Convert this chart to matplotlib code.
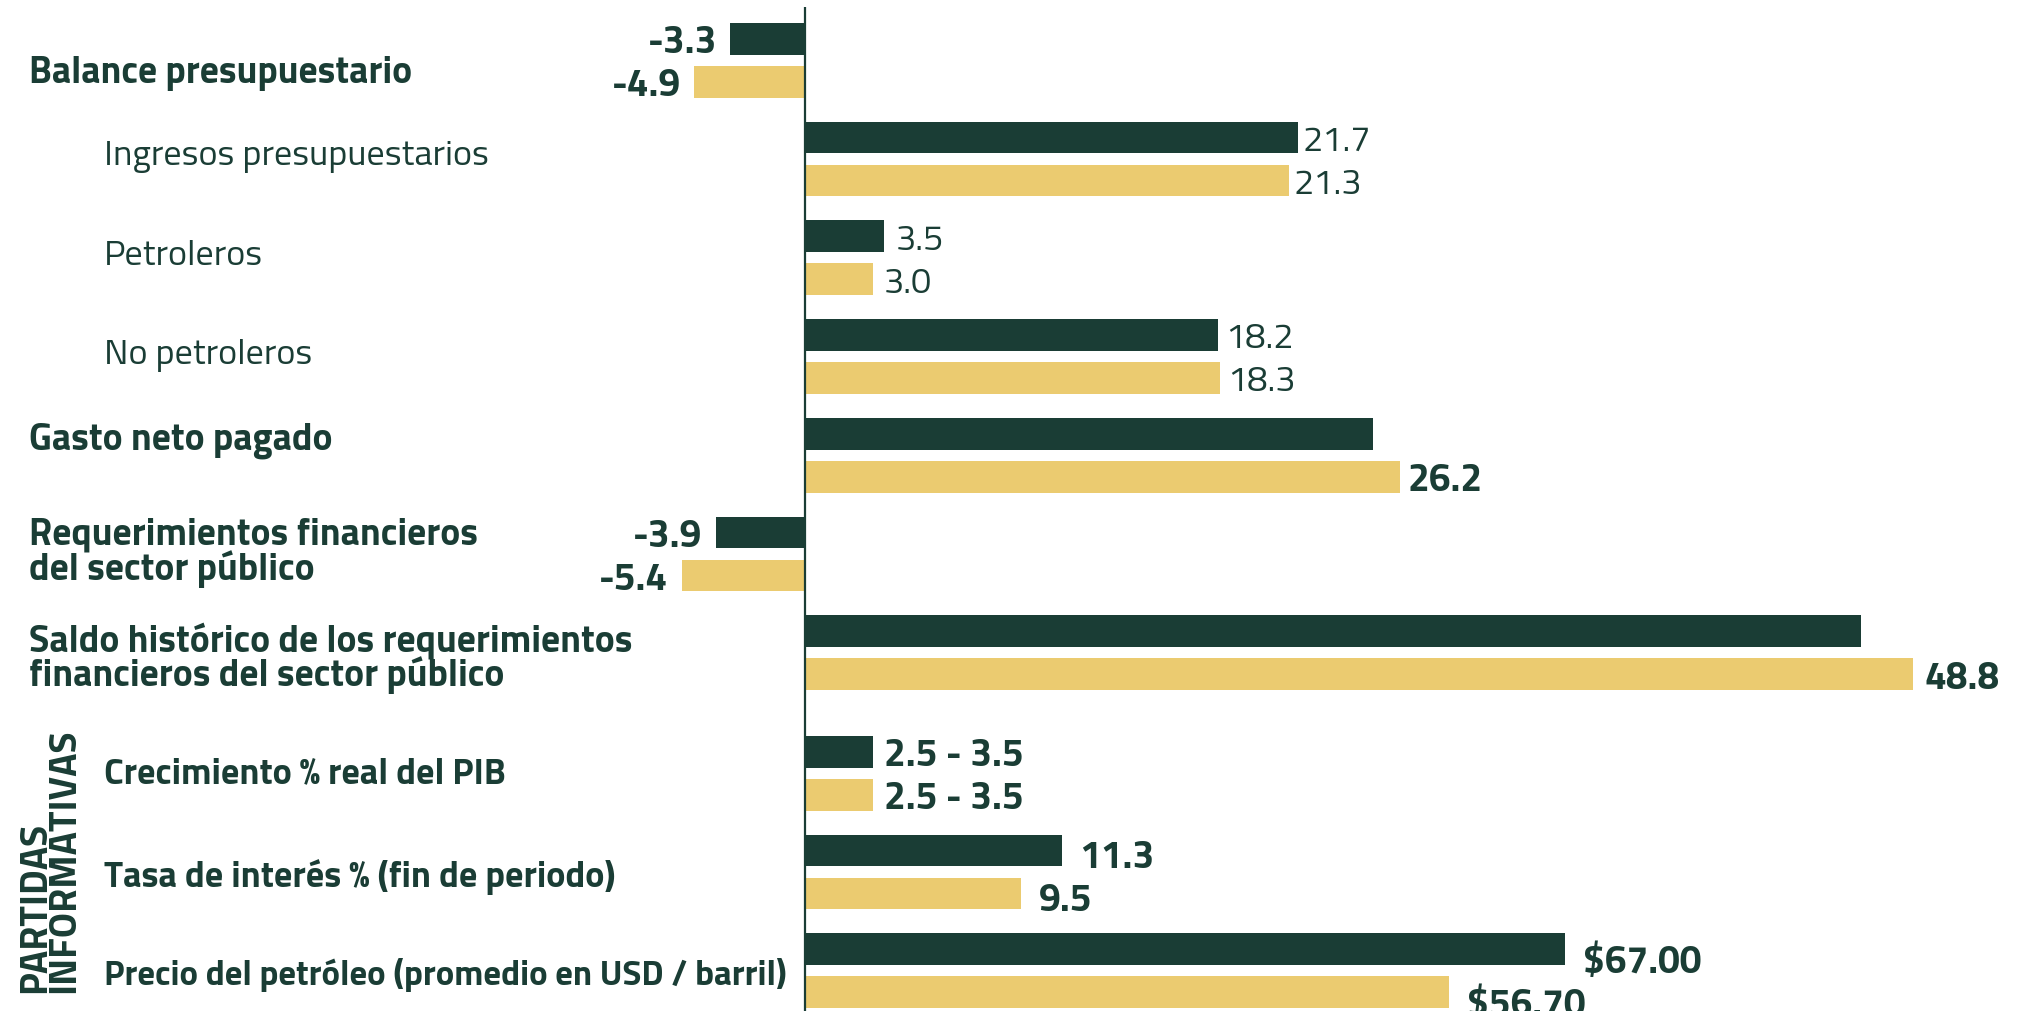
import matplotlib
matplotlib.use("Agg")
import matplotlib.pyplot as plt

# data
categories = ["Balance presupuestario",
              "Ingresos presupuestarios",
              "Petroleros",
              "No petroleros",
              "Gasto neto pagado",
              "Requerimientos financieros\ndel sector público",
              "Saldo histórico de los requerimientos\nfinancieros del sector público",
              "Crecimiento % real del PIB",
              "Tasa de interés % (fin de periodo)",
              "Precio del petróleo (promedio en USD / barril)"]
dark_values = [-3.3, 21.7, 3.5, 18.2, 25.0, -3.9, 46.5, 3.0, 11.3, 67.0]
yellow_values = [-4.9, 21.3, 3.0, 18.3, 26.2, -5.4, 48.8, 3.0, 9.5, 56.7]
dark_labels = ["-3.3", "21.7", "3.5", "18.2", "", "-3.9", "", "2.5 - 3.5", "11.3", r"\$67.00"]
yellow_labels = ["-4.9", "21.3", "3.0", "18.3", "26.2", "-5.4", "48.8", "2.5 - 3.5", "9.5", r"\$56.70"]
# oil price drawn at half scale in the original
bar_scale = [1, 1, 1, 1, 1, 1, 1, 1, 1, 0.5]
bold_rows = [True, False, False, False, True, True, True, True, True, True]
indent_rows = [False, True, True, True, False, False, False, True, True, True]
section_label = "PARTIDAS\nINFORMATIVAS"

DARK = "#1a3d35"
YELLOW = "#ebcb70"
FONT = ["Titillium Web", "Saira Semi Condensed", "Fira Sans Condensed", "DejaVu Sans"]

W, H = 2034, 1012
x0 = 805        # pixel of zero line
ppu = 22.7      # pixels per unit
bar_h = 31.7
pair_gap = 43
group_pitch = 98.7
section_gap = 22
cat_nudge = [8, -7.5, -6, -6, -20, -2, 5, -4, 0, 0]
cat_size = [27, 26, 26, 26, 27, 27, 27, 26, 26, 25]
lab_nudge = [0, 0, 0, 0, 0, 0, 0, 0, 3, 9]
lab_pad = [13, 5, 11, 7, 8, 14, 12, 11, 18, 18]


def main():
    fig = plt.figure(figsize=(W / 100, H / 100), dpi=100)
    ax = fig.add_axes([0, 0, 1, 1])
    ax.set_xlim(-x0 / ppu, (W - x0) / ppu)
    ax.set_ylim(H, 0)
    ax.axis("off")

    def px(x):
        return (x - x0) / ppu

    for i, cat in enumerate(categories):
        top = 24 + group_pitch * i + (section_gap if i >= 7 else 0)
        yd = top + bar_h / 2
        yy = yd + pair_gap
        ax.barh(yd, dark_values[i] * bar_scale[i], height=bar_h, color=DARK)
        ax.barh(yy, yellow_values[i] * bar_scale[i], height=bar_h, color=YELLOW)

        weight = "bold" if bold_rows[i] else "normal"
        lsize = 28 if bold_rows[i] else 26
        pad = lab_pad[i] / ppu
        for v, lab, y in [(dark_values[i], dark_labels[i], yd),
                          (yellow_values[i], yellow_labels[i], yy)]:
            if not lab:
                continue
            v = v * bar_scale[i]
            if v < 0:
                ax.text(v - pad, y + lab_nudge[i], lab, ha="right", va="center_baseline",
                        fontsize=lsize, fontweight=weight, color=DARK, family=FONT)
            else:
                ax.text(v + pad, y + lab_nudge[i], lab, ha="left", va="center_baseline",
                        fontsize=lsize, fontweight=weight, color=DARK, family=FONT)

        cx = 104 if indent_rows[i] else 29
        cy = top + (pair_gap + bar_h) / 2 + cat_nudge[i]
        ax.text(px(cx), cy, cat, ha="left",
                va="center" if "\n" in cat else "center_baseline",
                fontsize=cat_size[i], fontweight=weight, color=DARK, family=FONT,
                linespacing=0.9)

    ax.plot([0, 0], [8, H], color=DARK, lw=1.6, solid_capstyle="butt")

    ax.text(px(18), 993, section_label, rotation=90, ha="left", va="bottom",
            multialignment="left", fontsize=28, fontweight="bold", color=DARK,
            family=FONT, linespacing=0.8)

    fig.savefig("out.png", dpi=100)


if __name__ == '__main__':
    main()
